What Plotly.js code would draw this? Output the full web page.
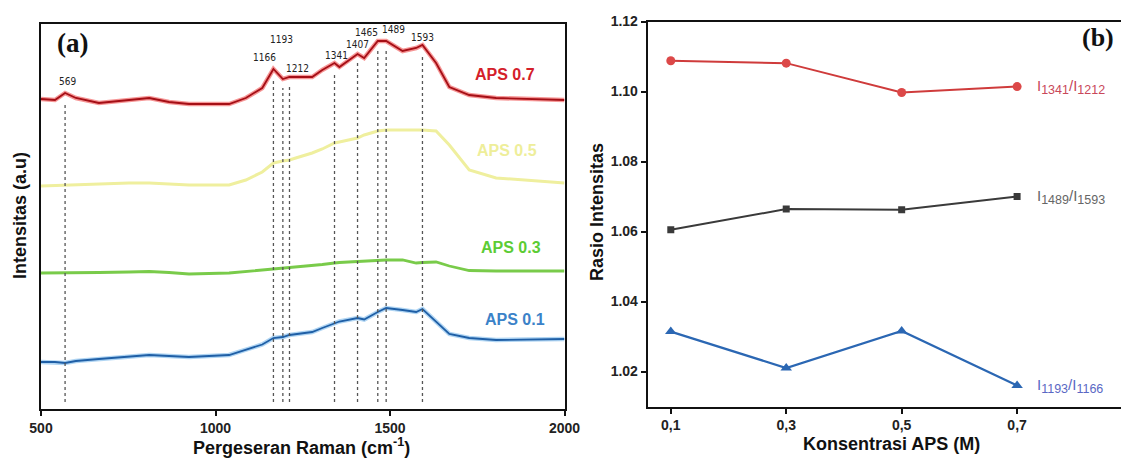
<!DOCTYPE html>
<html>
<head>
<meta charset="utf-8">
<script src="https://cdn.plot.ly/plotly-3.0.1.min.js"></script>
<style>html,body{margin:0;padding:0;background:#fff;}#chart{width:1121px;height:458px;}</style>
</head>
<body>
<div id="chart"></div>
<script>
// ---------- Data ----------
const ramanShift = [500, 540, 569, 600, 666, 752, 810, 867, 924, 1039, 1087, 1134, 1166, 1193, 1212, 1230, 1277, 1306, 1341, 1355, 1407, 1426, 1465, 1489, 1536, 1575, 1593, 1632, 1670, 1727, 1804, 2000];
const aps07 = [309, 308, 315, 310, 305, 308, 310, 306, 304, 304, 310, 320, 339, 329, 331, 331, 331, 338, 345, 341, 354, 350, 367, 367, 357, 360, 363, 345, 321, 313, 310, 308];
const aps05 = [222, 222.5, 223, 223, 224, 225, 225, 224, 223, 223, 228, 236, 245, 247, 248, 250, 255, 259, 265, 266, 270, 273, 277, 278, 278, 278, 278, 277, 263, 238, 230, 225];
const aps03 = [135, 135, 135, 135, 135.5, 136, 136.5, 135.5, 134, 135, 136.5, 137.5, 139, 139.5, 140, 140.5, 142, 143.5, 145, 145.5, 146.5, 147, 147.5, 148, 148, 145, 145.5, 146, 142, 137.5, 137, 137];
const aps01 = [46, 46, 45, 47, 49, 51, 53, 52, 51, 53, 58, 63.5, 70, 71, 73, 74, 76, 80, 85, 86.5, 90, 88.5, 96, 100, 98, 96, 99, 86, 74, 70, 68, 69];
const seriesNames = ['APS 0.7', 'APS 0.5', 'APS 0.3', 'APS 0.1'];
const peaks = [569, 1166, 1193, 1212, 1341, 1407, 1465, 1489, 1593];
const xTicksRaman = [500, 1000, 1500, 2000];

const apsConc = [0.1, 0.3, 0.5, 0.7];
const apsTickText = ['0,1', '0,3', '0,5', '0,7'];
const ratio1341_1212 = [1.1088, 1.1081, 1.0997, 1.1014];
const ratio1489_1593 = [1.0605, 1.0664, 1.0662, 1.0700];
const ratio1193_1166 = [1.0314, 1.0210, 1.0316, 1.0160];
const ratioTicks = [1.02, 1.04, 1.06, 1.08, 1.10, 1.12];

// ---------- Styling ----------
const SANS = 'Liberation Sans, Arial, sans-serif';
const SERIF = 'Liberation Serif, Times New Roman, serif';
const peakShiftX = [2, -9, -1, 8, 2, 0, -11, 7, 0];
const peakShiftY = [12, 12, 40, 9, 8, 10, 9, 12, 8];

function valueAt(xs, ys, x) {
  return ys[xs.indexOf(x)];
}

const traces = [
  {x: ramanShift, y: aps07, mode: 'lines', line: {color: '#ee4040', width: 4.5}, opacity: 0.55, hoverinfo: 'skip'},
  {x: ramanShift, y: aps07, mode: 'lines', name: seriesNames[0], line: {color: '#a50f16', width: 1.8}},
  {x: ramanShift, y: aps05, mode: 'lines', name: seriesNames[1], line: {color: '#efef9e', width: 3}},
  {x: ramanShift, y: aps03, mode: 'lines', name: seriesNames[2], line: {color: '#79cb4a', width: 2.8}},
  {x: ramanShift, y: aps01, mode: 'lines', line: {color: '#8fc3ee', width: 4.5}, opacity: 0.7, hoverinfo: 'skip'},
  {x: ramanShift, y: aps01, mode: 'lines', name: seriesNames[3], line: {color: '#1f5fa6', width: 1.8}},
  {x: apsConc, y: ratio1341_1212, xaxis: 'x2', yaxis: 'y2', mode: 'lines+markers',
   line: {color: '#cf3b3b', width: 2}, marker: {symbol: 'circle', size: 9, color: '#dc4848'}},
  {x: apsConc, y: ratio1489_1593, xaxis: 'x2', yaxis: 'y2', mode: 'lines+markers',
   line: {color: '#3a3a3a', width: 2}, marker: {symbol: 'square', size: 7, color: '#3a3a3a'}},
  {x: apsConc, y: ratio1193_1166, xaxis: 'x2', yaxis: 'y2', mode: 'lines+markers',
   line: {color: '#2b67b3', width: 2.2}, marker: {symbol: 'triangle-up', size: 10, color: '#2b67b3'}}
];

const shapes = peaks.map(p => ({
  type: 'line', xref: 'x', yref: 'y', x0: p, x1: p, y0: 6, y1: valueAt(ramanShift, aps07, p) - 9,
  line: {color: '#555', width: 1.3, dash: 'dot'}
}));

const annotations = [];
peaks.forEach((p, i) => {
  annotations.push({x: p, y: valueAt(ramanShift, aps07, p), xref: 'x', yref: 'y', text: String(p),
    showarrow: false, xanchor: 'center', yanchor: 'middle', xshift: peakShiftX[i], yshift: peakShiftY[i],
    font: {family: 'DejaVu Sans Condensed, Liberation Sans Narrow, ' + SANS, size: 10, color: '#222'}});
});
const apsLabelColors = ['#d4202a', '#eeee9a', '#5ccc35', '#3b82c8'];
const apsLabelY = [(458-74)/458, (458-150)/458, (458-247)/458, (458-319)/458];
const apsLabelX = [505/1121, 507/1121, 511/1121, 515/1121];
seriesNames.forEach((n, i) => {
  annotations.push({xref: 'paper', yref: 'paper', x: apsLabelX[i], y: apsLabelY[i], text: n, showarrow: false,
    xanchor: 'center', yanchor: 'middle',
    font: {family: SANS, size: 16, color: apsLabelColors[i], weight: 'bold'}});
});
const sub = s => "<sub><span style='font-size:12.5px'>" + s + "</span></sub>";
const ratioLabels = [
  {text: 'I' + sub('1341') + '/I' + sub('1212'), y: ratio1341_1212[3], color: '#c9485a'},
  {text: 'I' + sub('1489') + '/I' + sub('1593'), y: ratio1489_1593[3], color: '#666666'},
  {text: 'I' + sub('1193') + '/I' + sub('1166'), y: ratio1193_1166[3], color: '#5a68c4'}
];
ratioLabels.forEach(l => {
  annotations.push({xref: 'x2', yref: 'y2', x: apsConc[3], y: l.y, text: l.text, showarrow: false,
    xanchor: 'left', yanchor: 'middle', xshift: 18, yshift: 0, font: {family: SANS, size: 15, color: l.color}});
});
const centered = {showarrow: false, xanchor: 'center', yanchor: 'middle', xref: 'paper', yref: 'paper'};
annotations.push(
  Object.assign({}, centered, {x: 301/1121, y: (458-446)/458, text: 'Pergeseran Raman (cm<sup>-1</sup>)',
   font: {family: SANS, size: 18, color: '#111', weight: 'bold'}}),
  Object.assign({}, centered, {x: 891/1121, y: (458-444)/458, text: 'Konsentrasi APS (M)',
   font: {family: SANS, size: 18, color: '#111', weight: 'bold'}}),
  Object.assign({}, centered, {x: 20/1121, y: (458-216)/458, text: 'Intensitas (a.u)', textangle: -90,
   font: {family: SANS, size: 18, color: '#111', weight: 'bold'}}),
  Object.assign({}, centered, {x: 597/1121, y: (458-212)/458, text: 'Rasio Intensitas', textangle: -90,
   font: {family: SANS, size: 18, color: '#111', weight: 'bold'}}),
  Object.assign({}, centered, {x: 72/1121, y: (458-43)/458, text: '(a)',
   font: {family: SERIF, size: 27, color: '#111', weight: 'bold'}}),
  Object.assign({}, centered, {x: 1098/1121, y: (458-38)/458, text: '(b)',
   font: {family: SERIF, size: 26, color: '#111', weight: 'bold'}})
);

const axisCommon = {showgrid: false, zeroline: false, showline: true, linecolor: '#111', linewidth: 2,
  ticks: 'outside', ticklen: 5, tickwidth: 2, tickcolor: '#111',
  tickfont: {family: SANS, size: 14, color: '#222', weight: 'bold'}};

const layout = {
  width: 1121, height: 458, margin: {l: 0, r: 0, t: 0, b: 0},
  paper_bgcolor: '#fff', plot_bgcolor: '#fff', showlegend: false,
  xaxis: Object.assign({}, axisCommon, {domain: [41/1121, 564.5/1121], range: [500, 2000], tickvals: xTicksRaman, mirror: true, anchor: 'y'}),
  yaxis: Object.assign({}, axisCommon, {domain: [49/458, 434/458], range: [-1, 384], showticklabels: false, ticks: '', mirror: true, anchor: 'x'}),
  xaxis2: Object.assign({}, axisCommon, {domain: [647.7/1121, 1], range: [0.06, 0.88], tickvals: apsConc, ticktext: apsTickText, mirror: true, anchor: 'y2'}),
  yaxis2: Object.assign({}, axisCommon, {domain: [51.5/458, 436.5/458], range: [1.01, 1.12], tickvals: ratioTicks, tickformat: '.2f', anchor: 'x2'}),
  shapes: shapes,
  annotations: annotations
};

Plotly.newPlot('chart', traces, layout, {staticPlot: true, displayModeBar: false});
</script>
</body>
</html>
